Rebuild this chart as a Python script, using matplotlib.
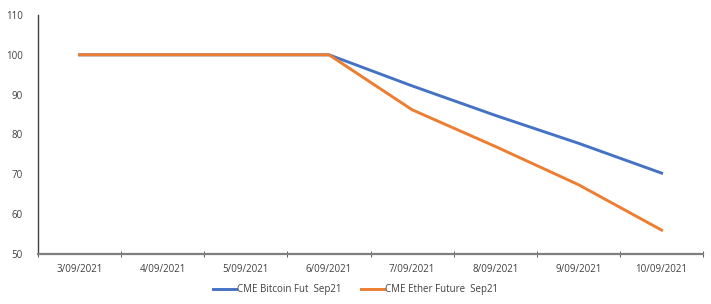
import numpy as np
import matplotlib
matplotlib.use('Agg')
import matplotlib.pyplot as plt

dates = ['3/09/2021', '4/09/2021', '5/09/2021', '6/09/2021',
         '7/09/2021', '8/09/2021', '9/09/2021', '10/09/2021']
bitcoin = [100, 100, 100, 100, 92.2, 84.8, 77.8, 70.3]
ether = [100, 100, 100, 100, 86.2, 77.0, 67.4, 56.0]
y_ticks = [50, 60, 70, 80, 90, 100, 110]

plt.rcParams['font.family'] = ['Open Sans', 'DejaVu Sans']

fig = plt.figure(figsize=(7.11, 3.04), dpi=100)
ax = fig.add_axes([0.0534, 0.1645, 0.9356, 0.7862])

x = np.arange(len(dates))
ax.plot(x, bitcoin, color='#4472C4', lw=2.1, label='CME Bitcoin Fut  Sep21')
ax.plot(x, ether, color='#ED7D31', lw=2.1, label='CME Ether Future  Sep21')

ax.set_xlim(-0.5, len(dates) - 0.5)
ax.set_ylim(50, 110)
ax.set_yticks(y_ticks)
ax.set_yticklabels([str(v) for v in y_ticks], fontsize=7, color='#404040')
ax.set_xticks(x)
ax.set_xticklabels(dates, fontsize=7, color='#404040')
ax.set_xticks(np.arange(len(dates) + 1) - 0.5, minor=True)
ax.tick_params(axis='x', which='major', length=0, pad=7)
ax.tick_params(axis='x', which='minor', length=4, direction='inout', color='#404040')
ax.tick_params(axis='y', length=0, pad=11)

for s in ['top', 'right']:
    ax.spines[s].set_visible(False)
ax.spines['left'].set_color('#404040')
ax.spines['left'].set_linewidth(1.0)
ax.spines['bottom'].set_color('#7f7f7f')
ax.spines['bottom'].set_linewidth(1.6)

fig.legend(loc='lower center', bbox_to_anchor=(0.5, 0.0), ncol=2, frameon=False,
           fontsize=7, handlelength=2.4, handletextpad=0.1, columnspacing=2.0,
           labelcolor='#404040')

fig.savefig('out.png', dpi=100)
